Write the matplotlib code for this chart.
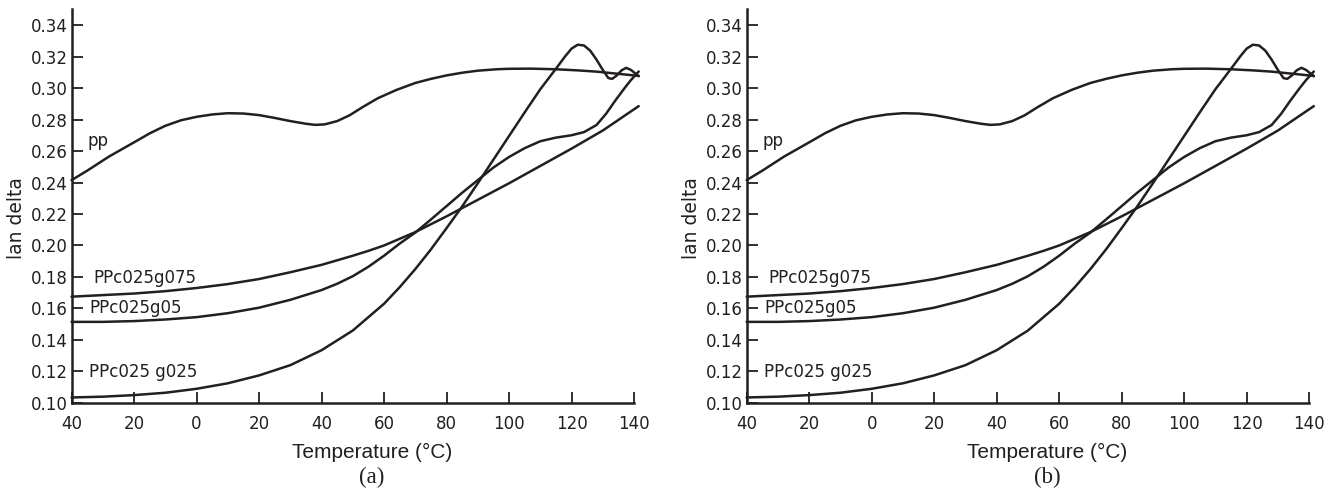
#Script for redrawing two identical tan delta vs temperature panels (a) and (b)
#Import useful libraries
import numpy as np
import matplotlib
matplotlib.use('Agg')
import matplotlib.pyplot as plt

#Data (temperature in C, tan delta)
pp_temp = [-40, -35, -28, -20, -15, -10, -5, 0, 5, 10, 15, 20, 25, 30, 35, 38, 41, 45, 49, 53,
           58, 64, 70, 75, 80, 85, 90, 96, 100, 107, 115, 122, 128, 134, 141.5]
pp_tan = [0.2415, 0.2475, 0.2565, 0.2655, 0.2712, 0.276, 0.2795, 0.2817, 0.2832, 0.284, 0.2838,
          0.2828, 0.281, 0.279, 0.2773, 0.2766, 0.2769, 0.279, 0.2827, 0.2877,
          0.2935, 0.2988, 0.3032, 0.3058, 0.308, 0.3097, 0.311, 0.3119, 0.3122, 0.3123, 0.3119,
          0.3112, 0.3104, 0.3092, 0.3077]

g075_temp = [-40, -30, -20, -10, 0, 10, 20, 30, 40, 50, 55, 60, 70, 80, 90, 100, 110, 120, 130, 141.5]
g075_tan = [0.1675, 0.1685, 0.1695, 0.171, 0.173, 0.1755, 0.1787, 0.183, 0.1877, 0.1935, 0.1966,
            0.2, 0.2085, 0.2185, 0.229, 0.2395, 0.2505, 0.2615, 0.273, 0.2885]

g05_temp = [-40, -30, -20, -10, 0, 10, 20, 30, 40, 45, 50, 55, 60, 65, 70, 75, 80, 85, 90, 95,
            100, 105, 110, 115, 120, 124, 128, 131, 134, 137, 139, 141.5]
g05_tan = [0.1515, 0.1515, 0.152, 0.153, 0.1545, 0.157, 0.1605, 0.1655, 0.1717, 0.1757, 0.1805,
           0.1865, 0.1935, 0.2012, 0.2082, 0.2165, 0.225, 0.2335, 0.2415, 0.2495,
           0.2562, 0.2618, 0.2662, 0.2685, 0.27, 0.272, 0.2765, 0.2835, 0.292, 0.3, 0.305, 0.3105]

g025_temp = [-40, -30, -20, -10, 0, 10, 20, 30, 40, 50, 60, 65, 70, 75, 80, 85, 90, 95, 100, 105,
             110, 115, 118, 120, 122, 124, 126, 128, 130, 131.8, 133, 134.5, 136, 137.5, 139, 141.5]
g025_tan = [0.1035, 0.104, 0.105, 0.1065, 0.109, 0.1125, 0.1175, 0.124, 0.1335, 0.146, 0.163,
            0.1735, 0.185, 0.1975, 0.211, 0.2248, 0.2395, 0.2545, 0.2695, 0.2845,
            0.2992, 0.3122, 0.3202, 0.325, 0.3275, 0.327, 0.3237, 0.318, 0.3115, 0.3063, 0.3058,
            0.308, 0.3112, 0.3128, 0.3115, 0.3075]

x_ticks = [-40, -20, 0, 20, 40, 60, 80, 100, 120, 140]
x_tick_labels = ['40', '20', '0', '20', '40', '60', '80', '100', '120', '140']
y_ticks = [0.10, 0.12, 0.14, 0.16, 0.18, 0.20, 0.22, 0.24, 0.26, 0.28, 0.30, 0.32, 0.34]
y_tick_labels = ['0.10', '0.12', '0.14', '0.16', '0.18', '0.20', '0.22', '0.24', '0.26',
                 '0.28', '0.30', '0.32', '0.34']
panel_names = ['(a)', '(b)']

ink = '#231f20'

#Function to draw one panel
def make_panel(ax, name):
    '''Draw the four tan delta curves and the labels on one axes'''
    for t, v in [(pp_temp, pp_tan), (g075_temp, g075_tan), (g05_temp, g05_tan), (g025_temp, g025_tan)]:
        ax.plot(t, v, color=ink, lw=1.8, solid_capstyle='round', solid_joinstyle='round', clip_on=False)

    ax.set_xlim(-40, 142)
    ax.set_ylim(0.10, 0.35)
    ax.spines['top'].set_visible(False)
    ax.spines['right'].set_visible(False)
    ax.spines['left'].set_linewidth(1.8)
    ax.spines['bottom'].set_linewidth(1.8)
    ax.spines['left'].set_color(ink)
    ax.spines['bottom'].set_color(ink)
    ax.spines['bottom'].set_bounds(-40, 140)

    ax.set_xticks(x_ticks)
    ax.set_xticklabels(x_tick_labels)
    ax.set_yticks(y_ticks)
    ax.set_yticklabels(y_tick_labels)
    ax.tick_params(axis='x', direction='in', length=8, width=1.3, pad=9, labelsize=12, colors=ink)
    ax.tick_params(axis='y', direction='in', length=8, width=1.3, pad=3, labelsize=12, colors=ink)

    ax.set_ylabel('lan delta', fontsize=13.5, color=ink)
    ax.yaxis.set_label_coords(-0.08, 0.47)

    #curve labels
    ax.text(-35, 0.2665, 'pp', fontsize=12, color=ink, va='center', ha='left')
    ax.text(-33.1, 0.1795, 'PPc025g075', fontsize=12, color=ink, va='center', ha='left')
    ax.text(-34.4, 0.1603, 'PPc025g05', fontsize=12, color=ink, va='center', ha='left')
    ax.text(-34.4, 0.1195, 'PPc025 g025', fontsize=12, color=ink, va='center', ha='left')

    ax.text(0.528, -0.125, 'Temperature (°C)', transform=ax.transAxes, ha='center', va='center',
            fontsize=15, family='Liberation Sans', color=ink)
    ax.text(0.528, -0.19, name, transform=ax.transAxes, ha='center', va='center',
            fontsize=16.5, family='Liberation Serif', color=ink)

fig = plt.figure(figsize=(13.35, 4.93), dpi=100)
ax_a = fig.add_axes([0.0536, 0.1826, 0.4260, 0.7986])
ax_b = fig.add_axes([0.5593, 0.1826, 0.4260, 0.7986])
make_panel(ax_a, panel_names[0])
make_panel(ax_b, panel_names[1])

fig.savefig('out.png', dpi=100)
